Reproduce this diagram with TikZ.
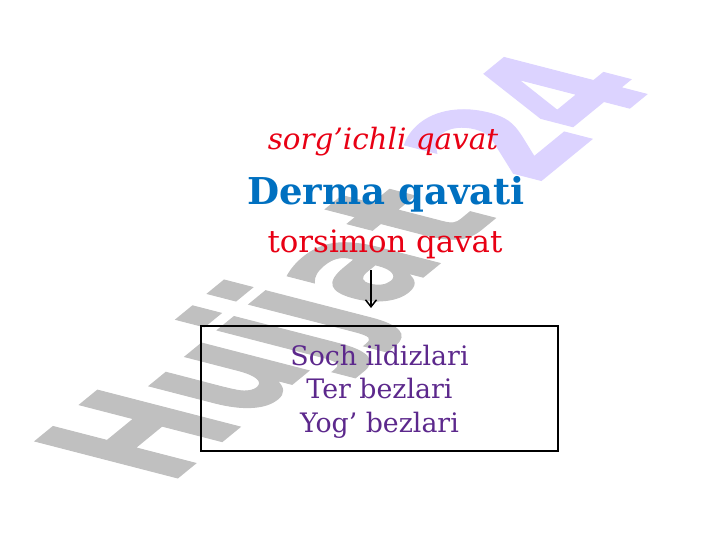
\documentclass[tikz,border=0pt]{standalone}
\usepackage{fontspec}
\setmainfont{DejaVu Serif}
\newfontfamily\wmfont{DejaVu Sans}[BoldFeatures={FakeBold=1}]
\usetikzlibrary{arrows.meta}
\definecolor{wmgray}{RGB}{192,192,192}
\definecolor{wmlav}{RGB}{220,211,255}
\definecolor{tred}{RGB}{232,0,20}
\definecolor{tblue}{RGB}{0,112,192}
\definecolor{tpurple}{RGB}{92,40,140}
\tikzset{
  wmstyle/.style={transform shape, anchor=base, inner sep=0pt, font=\wmfont\bfseries\fontsize{124}{124}\selectfont},
  lbl/.style={anchor=base, inner sep=0pt},
  arr/.style={line width=2.2pt, -{Straight Barb[length=7pt,width=11pt,line width=1.5pt]}},
  boxstyle/.style={draw, line width=1.8pt, minimum width=357pt, minimum height=125pt, inner sep=0pt},
  boxtext/.style={inner sep=0pt, align=center, text=tpurple, font=\fontsize{26.8}{33.5}\selectfont}
}
\begin{document}
\begin{tikzpicture}[x=1pt,y=1pt]
\useasboundingbox (0,0) rectangle (720,540);
% watermark
\foreach \a/\l/\c/\n in {28/H/wmgray/h, 124/u/wmgray/u, 189/j/wmgray/ja, 230/j/wmgray/jb, 296/a/wmgray/a, 375/t/wmgray/t, 493/2/wmlav/two, 572/4/wmlav/four}{
  \begin{scope}[shift={({187+0.77*\a},{70+0.63*\a})}, cm={0.77,0.63,-1.57,0.405,(0,0)}]
    \node[wmstyle, text=\c] (wm\n) at (0,0) {\l};
  \end{scope}
}
% texts
\node[lbl, text=tred, font=\itshape\fontsize{29.4}{29.4}\selectfont] (t1) at (383,390) {sorg’ichli qavat};
\node[lbl, text=tblue, font=\bfseries\fontsize{37}{37}\selectfont] (t2) at (386,335) {Derma qavati};
\node[lbl, text=tred, font=\fontsize{30.8}{30.8}\selectfont] (t3) at (385,287) {torsimon qavat};
\node[boxstyle] (box) at (379.5,151.5) {};
\node[boxtext] (bt) at ([yshift=-3pt]box.center) {Soch ildizlari\\Ter bezlari\\Yog’ bezlari};
\coordinate (as) at (371,270);
\coordinate (ae) at (371,232);
\draw[arr] (as) -- (ae);
\end{tikzpicture}
\end{document}
